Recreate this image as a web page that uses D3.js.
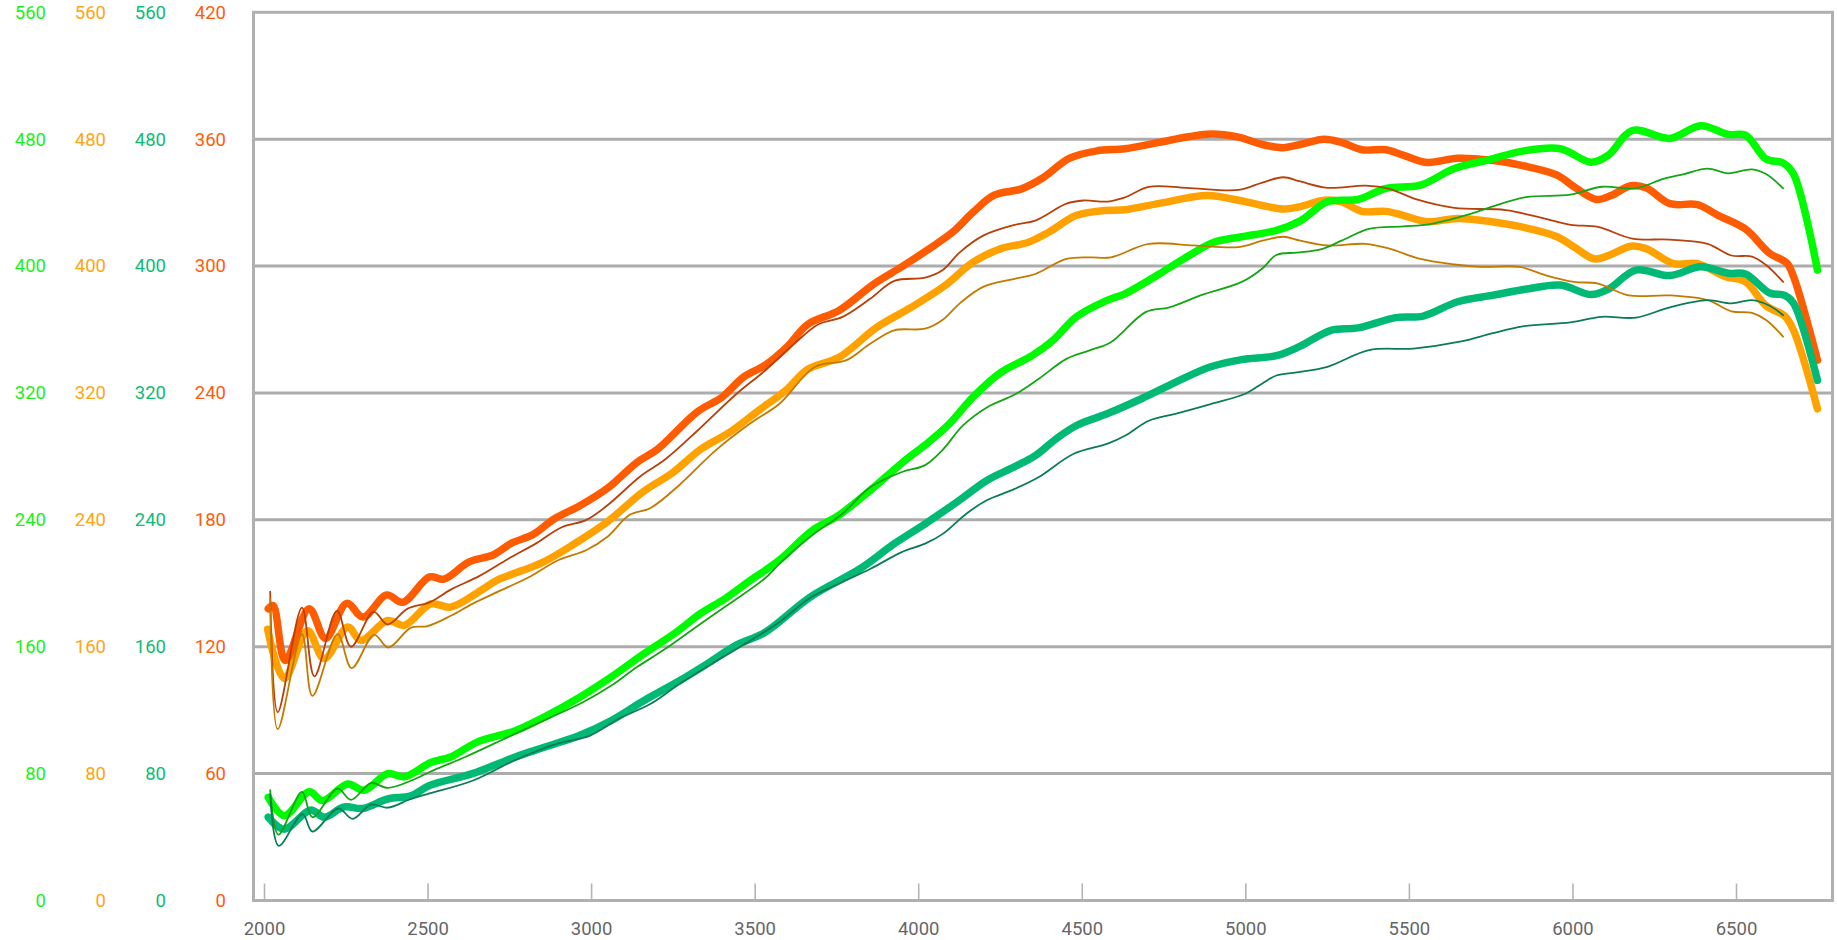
<!DOCTYPE html>
<html>
<head>
<meta charset="utf-8">
<script src="https://cdn.jsdelivr.net/npm/d3@7"></script>
<style>
  html, body { margin: 0; padding: 0; background: #fff; }
  svg { display: block; }
  text { font-family: Roboto, "DejaVu Sans", sans-serif; }
</style>
</head>
<body>
<div id="chart"></div>
<script>
// rpm / value pairs
const torqueRun = [[2013,138],[2028,139.5],[2065,113.5],[2138,138],[2188,124],[2253,140.5],[2303,134],[2375,144.5],[2424,141],[2506,153],[2550,152],[2626,160],[2702,163.5],[2757,169],[2822,173],[2888,180.5],[2964,186.5],[3051,195],[3139,207],[3204,213.5],[3324,231],[3400,238],[3466,247.5],[3531,253],[3597,261.5],[3663,272.5],[3758,279],[3864,291.5],[3948,299.5],[4032,308],[4105,316],[4168,325.5],[4232,333.5],[4316,336.5],[4379,341.5],[4463,351],[4547,354.5],[4632,355.5],[4737,358.5],[4821,361],[4894,362.5],[4979,361],[5052,357.5],[5116,356],[5168,357.5],[5241,360],[5294,358.5],[5356,355],[5430,355],[5482,352.5],[5555,349],[5649,351],[5754,350],[5848,347.5],[5953,343],[6005,337.5],[6073,331.5],[6120,333.5],[6178,338],[6225,337],[6298,329.5],[6382,329],[6445,324],[6529,317.5],[6603,306],[6655,301.5],[6676,295],[6749,255.5]];
const torqueBase = [[2019,146],[2042,89],[2116,138.5],[2154,106],[2223,137],[2266,120],[2335,136.5],[2378,130.5],[2439,138],[2506,141],[2571,147],[2659,153.5],[2746,161.5],[2833,169],[2910,176.5],[2986,180],[3051,187],[3150,200.5],[3226,208.5],[3324,222],[3444,239.5],[3531,250.5],[3619,263],[3695,272.5],[3769,276],[3853,284.5],[3927,293],[4021,294.5],[4074,298],[4127,306.5],[4200,314.5],[4295,319.5],[4358,321.5],[4453,329.5],[4505,331],[4579,330.5],[4632,332.5],[4705,337.5],[4821,337],[4979,336],[5052,339.5],[5116,342],[5168,340],[5251,337],[5367,338],[5440,336.5],[5524,331.5],[5639,327.5],[5796,326.5],[5900,323],[5994,319.5],[6078,318.5],[6183,313],[6298,312.5],[6413,310.5],[6486,305],[6549,304.5],[6592,300.5],[6644,292.5]];

const orangeRun = [[2011,171],[2062,140],[2133,170],[2184,152.5],[2256,172.5],[2296,164],[2378,176.5],[2429,173.5],[2510,187],[2571,185],[2663,195.5],[2713,202],[2789,208],[2855,213.5],[2942,224],[3051,239],[3161,258],[3248,269.5],[3335,284.5],[3422,295],[3509,308.5],[3597,322],[3663,335],[3758,342.5],[3874,361.5],[3979,374],[4084,388],[4168,402.5],[4253,411],[4337,415],[4400,421.5],[4484,432],[4568,435],[4632,435.5],[4737,439.5],[4884,444.5],[4979,441.5],[5116,436],[5168,437.5],[5241,441.5],[5294,440.5],[5356,434.5],[5430,434.5],[5482,432],[5555,428],[5649,430],[5754,428],[5848,424.5],[5953,418.5],[6005,412],[6068,404.5],[6120,407.5],[6178,412.5],[6225,411],[6309,401.5],[6382,401.5],[6466,393.5],[6529,390],[6592,375],[6649,368.5],[6676,359.5],[6749,310]];
const orangeBase = [[2019,190],[2042,108],[2116,168],[2148,129],[2225,168],[2268,146.5],[2337,167.5],[2380,159.5],[2449,172],[2500,173],[2571,179.5],[2637,187],[2724,195.5],[2811,204],[2899,214.5],[2986,221],[3051,229.5],[3117,243],[3182,247.5],[3270,262],[3379,283.5],[3488,301],[3575,313],[3685,336.5],[3779,340.5],[3853,351],[3927,359.5],[4021,360.5],[4074,366],[4127,376.5],[4200,387],[4295,392],[4358,395],[4453,404.5],[4526,405.5],[4589,405.5],[4705,414],[4842,413],[4979,412],[5052,416],[5116,418.5],[5168,416],[5251,413],[5367,414],[5440,411],[5535,404.5],[5639,401],[5722,399.5],[5838,399.5],[5921,394],[6005,390],[6078,389],[6172,381.5],[6298,381.5],[6413,378.5],[6486,371.5],[6549,370.5],[6592,366],[6644,355.5]];

const greenRun = [[2013,65],[2062,53.5],[2138,68.5],[2179,63],[2256,73.5],[2306,69.5],[2378,80],[2429,78],[2510,87],[2571,90.5],[2653,100],[2768,107],[2855,115.5],[2964,128],[3062,141],[3161,155.5],[3259,169],[3335,181],[3411,190.5],[3488,202],[3575,214.5],[3674,233],[3758,243],[3853,258.5],[3948,275.5],[4032,289],[4095,300.5],[4168,317.5],[4253,333],[4348,343.5],[4411,353],[4484,368],[4579,378.5],[4632,382.5],[4737,395],[4831,407],[4904,415],[4989,418.5],[5095,422.5],[5168,428.5],[5251,440.5],[5345,442],[5430,449],[5535,451],[5639,461.5],[5744,467],[5848,472.5],[5963,474],[6057,465.5],[6110,470],[6183,485.5],[6298,480.5],[6392,488.5],[6476,483],[6529,482.5],[6592,467.5],[6644,465],[6676,458],[6749,397.5]];
const greenBase = [[2019,69.5],[2044,41.5],[2116,68.5],[2148,52.5],[2225,70.5],[2266,63.5],[2327,74],[2378,71],[2449,75.5],[2506,81],[2615,90.5],[2746,103],[2877,115.5],[2975,125],[3062,135.5],[3139,147],[3226,158.5],[3335,174.5],[3422,187],[3531,203],[3579,213],[3674,230],[3769,244],[3853,260.5],[3948,270],[4021,274.5],[4074,284],[4137,299.5],[4211,311],[4295,319],[4369,329],[4453,341.5],[4526,347],[4589,352],[4695,371],[4768,374],[4863,381.5],[4989,390],[5052,398.5],[5095,407],[5157,408.5],[5230,410.5],[5294,416],[5378,423.5],[5482,425],[5566,426.5],[5691,433],[5754,437.5],[5858,443.5],[5994,445],[6089,450],[6194,449],[6278,455],[6341,458],[6413,461.5],[6476,458.5],[6549,461],[6592,458],[6644,449]];

const tealRun = [[2013,52.5],[2062,45],[2143,57],[2184,52.5],[2245,59],[2301,58],[2378,64],[2449,66],[2506,72.5],[2637,80],[2768,90.5],[2855,96.5],[2964,104],[3062,113.5],[3161,126],[3270,138.5],[3357,149.5],[3444,161],[3531,169],[3671,191.5],[3821,209],[3927,225],[4021,237.5],[4127,252.5],[4211,265],[4295,273.5],[4358,280.5],[4421,291],[4484,299.5],[4579,307],[4684,316.5],[4789,327],[4894,336.5],[4989,341],[5095,343.5],[5168,349.5],[5262,359.5],[5345,361],[5460,367.5],[5544,368.5],[5649,377.5],[5754,381.5],[5860,385.5],[5963,388],[6057,382],[6110,385.5],[6194,397.5],[6298,394],[6392,399.5],[6476,395.5],[6529,395],[6603,383],[6649,381.5],[6676,376.5],[6749,328]];
const tealBase = [[2019,67],[2045,34.5],[2118,54.5],[2148,43.5],[2227,58],[2271,51.5],[2327,60.5],[2378,58.5],[2449,64],[2506,67.5],[2637,75.5],[2768,88.5],[2899,99],[2997,104],[3084,114.5],[3182,124],[3270,136.5],[3379,150.5],[3488,164],[3575,175.5],[3671,191],[3760,200],[3853,209],[3948,219.5],[4021,225],[4074,231],[4148,244],[4211,252.5],[4295,259.5],[4369,267],[4474,281.5],[4579,288],[4632,293],[4705,302.5],[4789,307],[4894,313],[5000,319.5],[5052,326],[5095,331],[5157,333],[5251,336.5],[5378,347],[5514,348],[5660,352.5],[5754,357.5],[5848,362],[5994,364.5],[6089,368],[6194,367.5],[6298,374],[6413,378.5],[6486,376.5],[6549,378.5],[6603,375],[6644,369]];

const rpmTicks = [2000, 2500, 3000, 3500, 4000, 4500, 5000, 5500, 6000, 6500];
const ticks560 = [0, 80, 160, 240, 320, 400, 480, 560];
const ticks420 = [0, 60, 120, 180, 240, 300, 360, 420];

const W = 1837, H = 940;
const plot = { left: 253.5, right: 1832.5, top: 12.3, bottom: 900.5 };

const svg = d3.select('#chart').append('svg')
  .attr('width', W)
  .attr('height', H);

const x = d3.scaleLinear().domain([2000, 6500]).range([264, 1736]);
const y420 = d3.scaleLinear().domain([0, 420]).range([plot.bottom, plot.top]);
const y560 = d3.scaleLinear().domain([0, 560]).range([plot.bottom, plot.top]);

// grid
svg.append('g')
  .selectAll('line')
  .data(ticks420.slice(1, -1))
  .enter().append('line')
  .attr('x1', plot.left).attr('x2', plot.right)
  .attr('y1', d => y420(d)).attr('y2', d => y420(d))
  .attr('stroke', '#acacac')
  .attr('stroke-width', 3);

// x axis, ticks pointing up into the plot
const xAxis = svg.append('g')
  .attr('transform', 'translate(0,' + plot.bottom + ')')
  .call(d3.axisBottom(x).tickValues(rpmTicks).tickSizeInner(-17).tickSizeOuter(0).tickPadding(21).tickFormat(d3.format('d')));
xAxis.select('.domain').remove();
xAxis.selectAll('line').attr('stroke', '#b4b4b4').attr('stroke-width', 1.6);
xAxis.selectAll('text').attr('fill', '#666').attr('font-size', 18.5);

// left hand value columns
const cols = [
  { x: 46, scale: y560, ticks: ticks560, color: '#1cf01c' },
  { x: 106, scale: y560, ticks: ticks560, color: '#ffa510' },
  { x: 166, scale: y560, ticks: ticks560, color: '#10bb77' },
  { x: 226, scale: y420, ticks: ticks420, color: '#ff5c0a' }
];
cols.forEach(c => {
  const g = svg.append('g')
    .attr('transform', 'translate(' + c.x + ',0)')
    .call(d3.axisLeft(c.scale).tickValues(c.ticks).tickSize(0).tickPadding(0));
  g.select('.domain').remove();
  g.selectAll('text').attr('fill', c.color).attr('font-size', 18.5);
});

// frame
svg.append('rect')
  .attr('x', plot.left).attr('y', plot.top)
  .attr('width', plot.right - plot.left)
  .attr('height', plot.bottom - plot.top)
  .attr('fill', 'none')
  .attr('stroke', '#b0b0b0')
  .attr('stroke-width', 3);

function drawLine(data, yScale, color, width) {
  const line = d3.line()
    .x(d => x(d[0]))
    .y(d => yScale(d[1]))
    .curve(d3.curveCatmullRom.alpha(0.5));
  svg.append('path')
    .datum(data)
    .attr('d', line)
    .attr('fill', 'none')
    .attr('stroke', color)
    .attr('stroke-width', width)
    .attr('stroke-linecap', 'round')
    .attr('stroke-linejoin', 'round');
}

drawLine(orangeRun, y560, '#ffa200', 7.5);
drawLine(torqueRun, y420, '#ff5b00', 7.5);
drawLine(tealRun, y560, '#00b974', 7.5);
drawLine(greenRun, y560, '#00fa00', 7.5);

drawLine(torqueBase, y420, '#b8400a', 1.8);
drawLine(orangeBase, y560, '#c47a00', 1.8);
drawLine(greenBase, y560, '#15a515', 1.8);
drawLine(tealBase, y560, '#0a7c58', 1.8);
</script>
</body>
</html>
